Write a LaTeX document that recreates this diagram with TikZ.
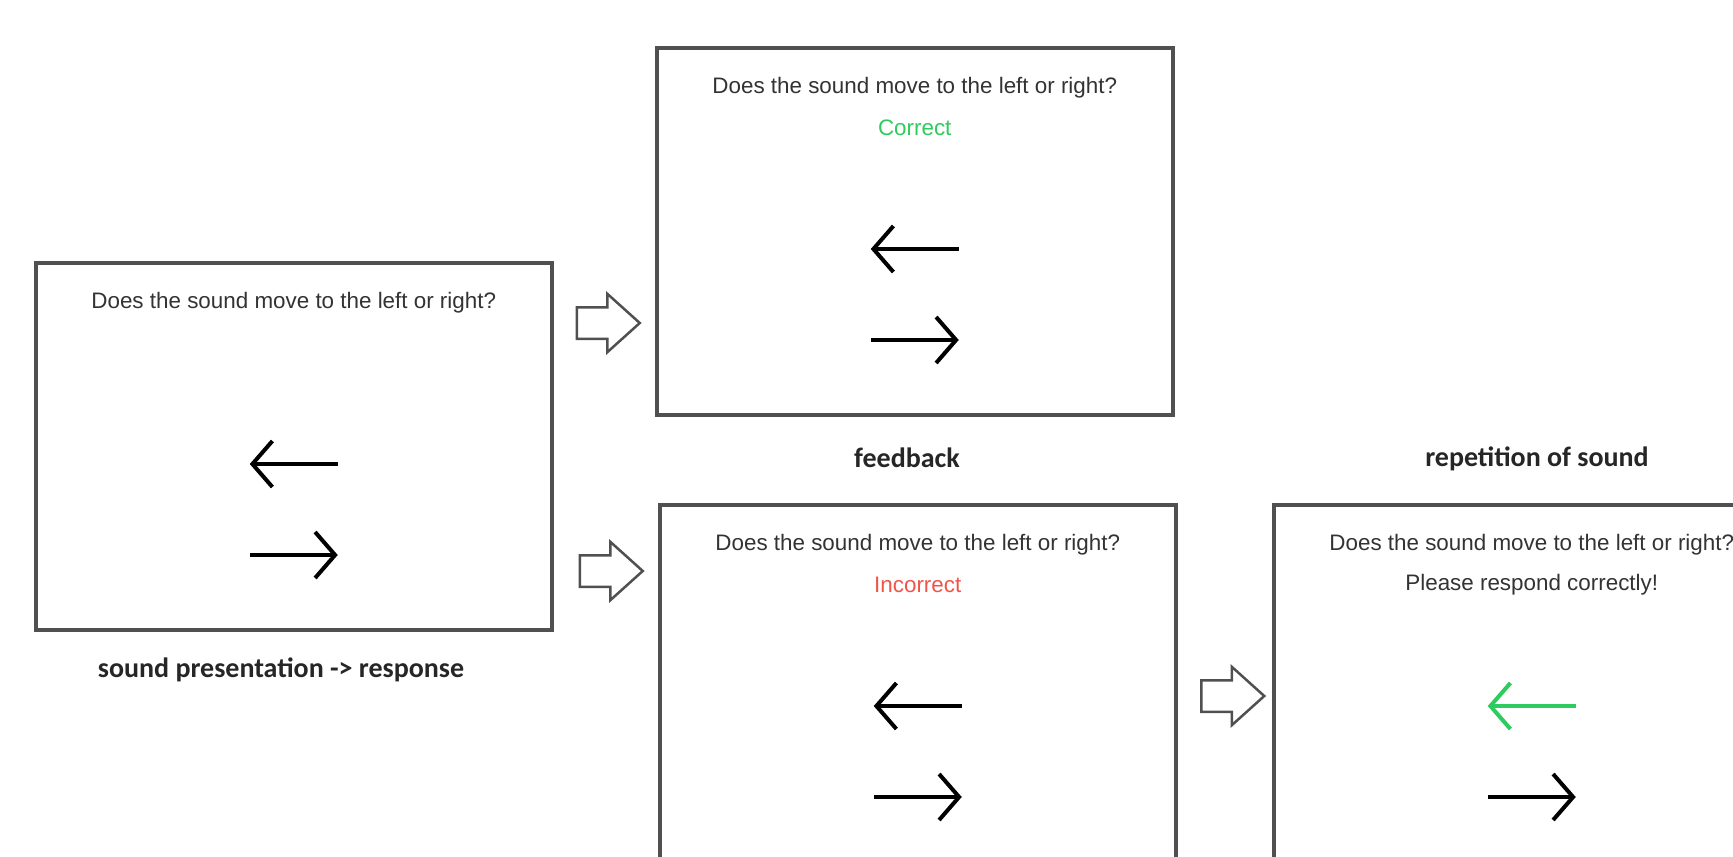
\documentclass[tikz,border=0pt]{standalone}
\usepackage{fontspec}
\setmainfont{Liberation Sans}
\newfontfamily\capfont{Carlito}
\usetikzlibrary{arrows.meta,shapes.arrows,positioning}
\definecolor{framegray}{HTML}{505050}
\definecolor{textgray}{HTML}{333333}
\definecolor{okgreen}{HTML}{2ECC5E}
\definecolor{badred}{HTML}{F0554A}
\tikzset{
  screen/.style={draw=framegray,line width=3.5pt,minimum width=516pt,minimum height=367pt,anchor=north west,inner sep=0},
  question/.style={text=textgray,font=\fontsize{22.4}{26}\selectfont,inner sep=0},
  caption/.style={font=\capfont\bfseries\fontsize{28}{32}\selectfont,text=black!85},
  choice/.style={line width=4pt,-{Straight Barb[length=20pt,width=46pt]}},
  nextstep/.style={draw=framegray,line width=2.5pt,shape=single arrow,single arrow head extend=13.5pt,single arrow tip angle=84,inner xsep=0,inner ysep=14.5pt,minimum height=63pt}
}
\begin{document}
\begin{tikzpicture}[x=1pt,y=-1pt]
        \useasboundingbox (0,0) rectangle (1733,857);
        \clip (0,0) rectangle (1733,857);
        \fill[white] (0,0) rectangle (1733,857);
        % sound presentation
        \node[screen] (s0) at (34,261) {};
        \node[question] (q0) at ([yshift=-42pt]s0.north) {Does the sound move to the left or right?};
        \draw[choice] ([xshift=44pt,yshift=-203pt]s0.north) -- ++(-88,0);
        \draw[choice] ([xshift=-44pt,yshift=-294pt]s0.north) -- ++(88,0);
        \node[caption] (c0) at (281,670) {sound presentation -> response};
        % feedback, correct
        \node[screen] (s1) at (655,46) {};
        \node[question] (q1) at ([yshift=-42pt]s1.north) {Does the sound move to the left or right?};
        \node[question,text=okgreen] (f1) at ([yshift=-82pt]s1.north) {Correct};
        \draw[choice] ([xshift=44pt,yshift=-203pt]s1.north) -- ++(-88,0);
        \draw[choice] ([xshift=-44pt,yshift=-294pt]s1.north) -- ++(88,0);
        \node[caption] (c1) at (907,458) {feedback};
        % feedback, incorrect
        \node[screen] (s2) at (658,503) {};
        \node[question] (q2) at ([yshift=-42pt]s2.north) {Does the sound move to the left or right?};
        \node[question,text=badred] (f2) at ([yshift=-82pt]s2.north) {Incorrect};
        \draw[choice] ([xshift=44pt,yshift=-203pt]s2.north) -- ++(-88,0);
        \draw[choice] ([xshift=-44pt,yshift=-294pt]s2.north) -- ++(88,0);
        % repetition
        \node[screen] (s3) at (1272,503) {};
        \node[question] (q3) at ([yshift=-42pt]s3.north) {Does the sound move to the left or right?};
        \node[question] (f3) at ([yshift=-82pt]s3.north) {Please respond correctly!};
        \draw[choice,okgreen] ([xshift=44pt,yshift=-203pt]s3.north) -- ++(-88,0);
        \draw[choice] ([xshift=-44pt,yshift=-294pt]s3.north) -- ++(88,0);
        \node[caption] (c3) at (1537,459) {repetition of sound};
        % steps
        \node[nextstep] (n1) at (599.5,323) {};
        \node[nextstep] (n2) at (602.5,571) {};
        \node[nextstep] (n3) at (1224,696) {};
\end{tikzpicture}
\end{document}
